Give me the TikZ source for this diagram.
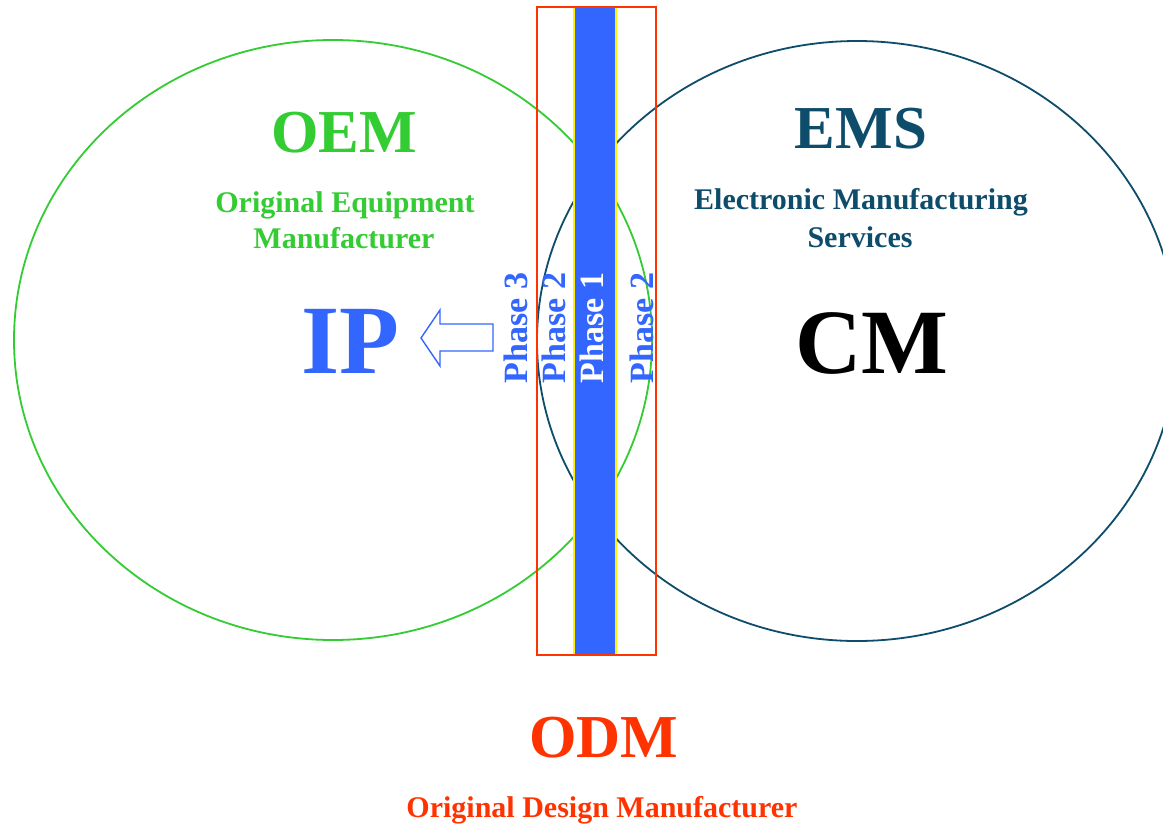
\documentclass[tikz,border=0pt]{standalone}
\usepackage{fontspec}
\setmainfont{Liberation Serif}
\definecolor{oemgreen}{HTML}{33CC33}
\definecolor{emsteal}{HTML}{0D4D6B}
\definecolor{odmred}{HTML}{FF3300}
\definecolor{phaseblue}{HTML}{3366FF}
\newcommand\txtsize[1]{\fontsize{#1}{#1}\selectfont\bfseries}
\tikzset{
  lbl/.style={inner sep=0pt, anchor=base},
  title/.style={lbl, font=\txtsize{61}},
  subtitle/.style={lbl, font=\txtsize{30}},
  phase/.style={lbl, rotate=90, font=\txtsize{34}},
}
\begin{document}
\begin{tikzpicture}[x=1pt, y=-1pt]
  \fill[white] (0,0) rectangle (1163,825);
  \useasboundingbox (0,0) rectangle (1163,825);
  \clip (0,0) rectangle (1163,825);

  % the two overlapping domains
  \draw[oemgreen, line width=1.8] (333,340) ellipse [x radius=319, y radius=300];
  \draw[emsteal, line width=1.8] (857,341) ellipse [x radius=320, y radius=300];

  % phase strip and ODM frame
  \draw[yellow, line width=1.8, fill=phaseblue] (574,7) rectangle (616,655);
  \draw[odmred, line width=1.8] (537,7) rectangle (656,655);

  % hollow arrow pointing to IP
  \draw[phaseblue, line width=1.4, fill=white, line join=miter]
    (421,338) -- (440,310) -- (440,324) -- (493,324) -- (493,351)
    -- (440,351) -- (440,366) -- cycle;

  % OEM side
  \node[title, text=oemgreen] (oem) at (344,152) {OEM};
  \node[subtitle, text=oemgreen] (oem1) at (345,212) {Original Equipment};
  \node[subtitle, text=oemgreen] (oem2) at (344,248) {Manufacturer};
  \node[lbl, font=\txtsize{98}, text=phaseblue] (ip) at (350,373) {IP};

  % EMS side
  \node[title, text=emsteal] (ems) at (861,148) {EMS};
  \node[subtitle, text=emsteal] (ems1) at (861,209) {Electronic Manufacturing};
  \node[subtitle, text=emsteal] (ems2) at (860,247) {Services};
  \node[lbl, font=\txtsize{92}, text=black] (cm) at (872,373) {CM};

  % phases
  \node[phase, text=phaseblue] (p3) at (527,328) {Phase 3};
  \node[phase, text=phaseblue] (p2a) at (565,328) {Phase 2};
  \node[phase, text=white] (p1) at (603,328) {Phase 1};
  \node[phase, text=phaseblue] (p2b) at (653,328) {Phase 2};

  % ODM
  \node[title, text=odmred] (odm) at (604,757) {ODM};
  \node[subtitle, text=odmred] (odm1) at (602,817) {Original Design Manufacturer};
\end{tikzpicture}
\end{document}
